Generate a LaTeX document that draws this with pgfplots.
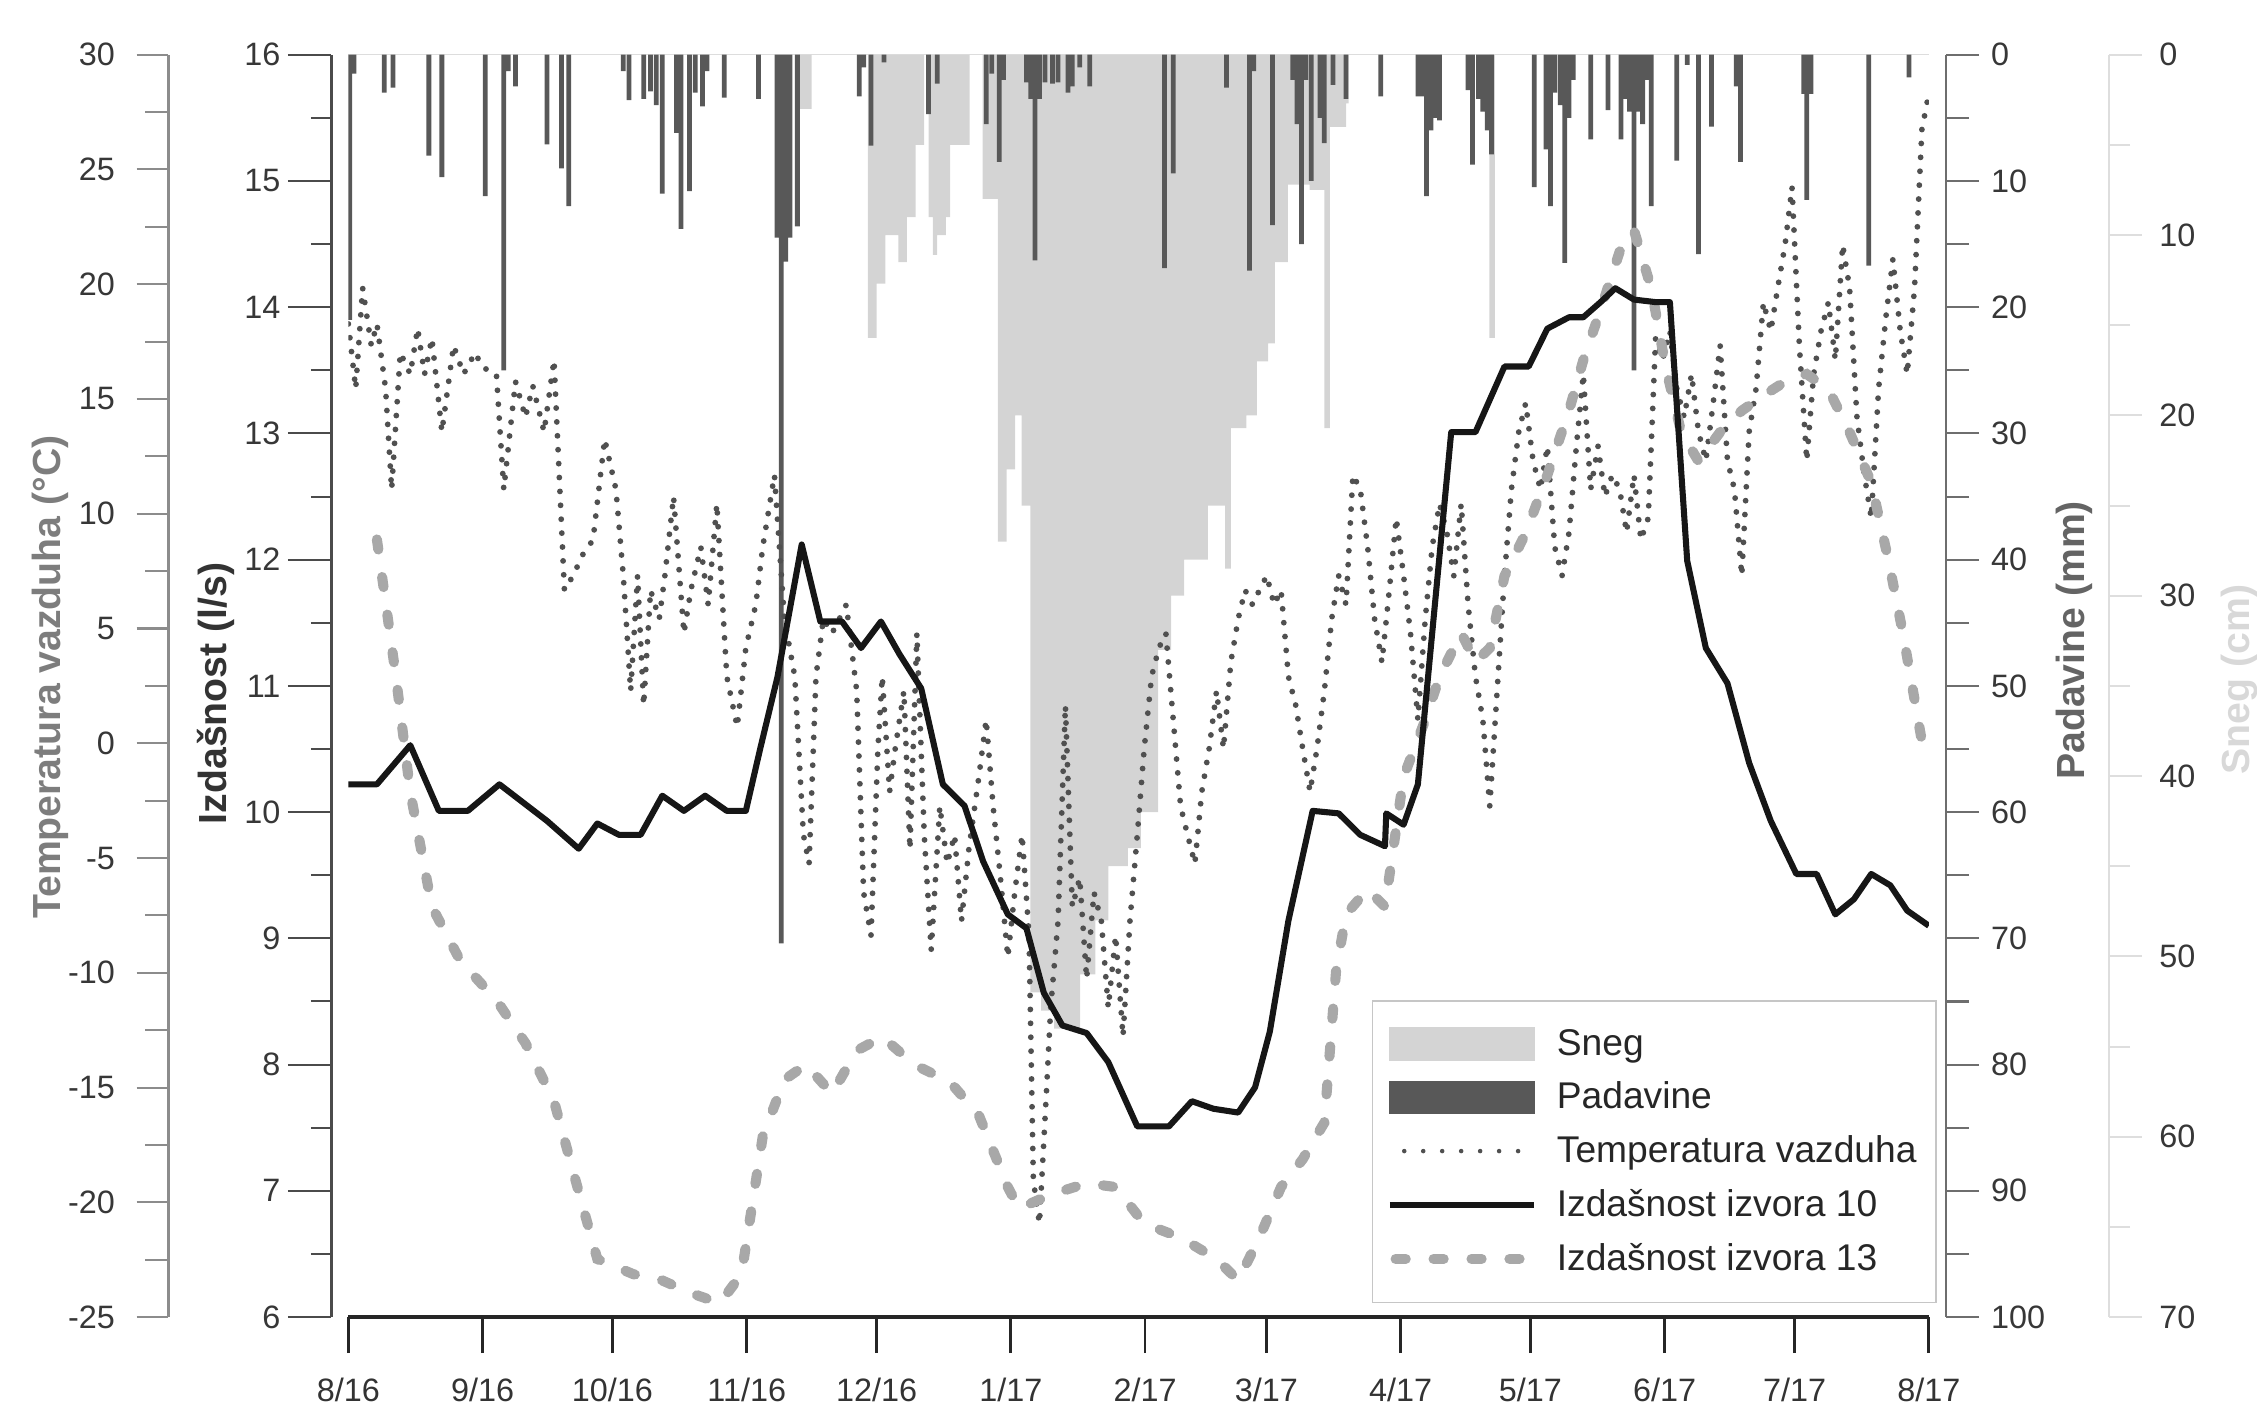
\documentclass[border=0pt]{standalone}
\usepackage{fontspec}
\setmainfont{Liberation Sans}
\usepackage{pgfplots}
\pgfplotsset{compat=1.18}

\definecolor{snowgray}{RGB}{212,212,212}
\definecolor{precgray}{RGB}{88,88,88}
\definecolor{tempgray}{RGB}{80,80,80}
\definecolor{qten}{RGB}{22,22,22}
\definecolor{qthirteen}{RGB}{168,168,168}
\definecolor{taxis}{RGB}{140,140,140}
\definecolor{tlabel}{RGB}{125,125,125}
\definecolor{qaxis}{RGB}{75,75,75}
\definecolor{paxis}{RGB}{110,110,110}
\definecolor{plabel}{RGB}{100,100,100}
\definecolor{saxis}{RGB}{222,222,222}
\definecolor{slabel}{RGB}{216,216,216}
\definecolor{ticktext}{RGB}{55,55,55}

\newcommand\tickfont{\fontsize{12.8}{14}\selectfont}
\newcommand\xfont{\fontsize{12.8}{14}\selectfont}
\newcommand\lblfont{\fontsize{15.5}{18}\selectfont\bfseries}

\tikzset{
  tempstyle/.style={tempgray, line width=2.3pt, line cap=round, dash pattern=on 0pt off 5.5pt},
  q13style/.style={qthirteen, line width=4pt, line cap=round, dash pattern=on 4pt off 11pt},
}
\pgfplotsset{
  base/.style={scale only axis, width=21.96cm, height=17.54cm, xmin=0, xmax=365},
  yonly/.style={scale only axis, width=1cm, height=17.54cm, xmin=0, xmax=1,
    axis x line=none, tick align=outside,
    major tick length=0.44cm, minor tick length=0.32cm, minor y tick num=1,
    /pgf/number format/assume math mode=true,
    yticklabel style={font=\tickfont, text=ticktext},
    ylabel style={font=\lblfont, anchor=center}},
}

\begin{document}
\begin{tikzpicture}
\useasboundingbox (-4.84cm,-1.24cm) rectangle (26.52cm,18.30cm);

% snow depth (cm), hanging from the top
\begin{axis}[base, ymin=0, ymax=70, y dir=reverse,
  axis x line*=top, axis y line=none, xtick=\empty,
  x axis line style={gray!25, line width=0.6pt}]
\addplot[const plot, fill=snowgray, draw=none] coordinates {
(0,0) (104,3) (107,0) (120,15.7) (122,12.7) (124,10) (127,11.5) (129,9) (131,5) (133,0)
(134,9) (135,11.1) (136,10) (138,9) (139,5) (143.5,0) (146.5,8) (150,27) (152,23) (154,20)
(155.5,25) (157.5,52) (160,53) (163,54) (166,54) (169,51) (172.5,48) (175.5,45) (180,44)
(183,42) (187,33) (190,30) (193,28) (198.5,25) (202.5,28.5) (203.8,20.7) (207.4,20)
(209.8,17) (212.4,16) (214,11.5) (217,7.2) (222,7.5) (225.4,20.7) (226.7,4) (230.4,2.7)
(231,0) (263.5,15.7) (264.8,0) (365,0)
} \closedcycle;
\end{axis}

% precipitation (mm), hanging from the top
\begin{axis}[base, hide axis, ymin=0, ymax=100, y dir=reverse]
\addplot[ybar, bar width=1.1, fill=precgray, draw=none] coordinates {
(0.3,21.0) (1.3,1.5) (8.3,3.0) (10.3,2.6) (18.6,8.0) (21.6,9.7) (31.6,11.2) (35.9,25.0)
(36.9,1.3) (38.6,2.5) (45.9,7.1) (49.2,9.0) (50.9,12.0) (63.5,1.3) (64.8,3.6) (68.2,3.5)
(69.8,2.9) (71.1,4.0) (72.5,11.0) (75.8,6.2) (76.8,13.8) (78.8,10.8) (80.1,3.0) (81.8,4.1)
(82.8,1.3) (86.8,3.4) (94.7,3.5) (99,14.5) (100,70.4) (101,16.4) (102,14.5) (103.7,13.6)
(118.0,3.3) (119.0,1.0) (120.7,7.2) (123.7,0.6) (134.0,4.7) (136.0,2.3) (147.3,5.5)
(148.6,1.5) (150.3,8.5) (151.3,2.0) (156.6,2.2) (157.6,3.5) (158.6,16.3) (159.6,3.5)
(160.9,2.2) (162.6,2.3) (163.9,2.2) (166.2,3.0) (167.2,2.5) (168.9,1.0) (171.2,2.5)
(188.5,16.9) (190.5,9.4) (202.8,2.6) (208.1,17.1) (209.1,1.3) (213.4,13.5) (218.1,2.0)
(219.1,5.5) (220.1,15.0) (221.1,2.0) (222.4,10.0) (224.4,5.0) (225.4,7.0) (227.4,2.4)
(230.4,3.5) (238.4,3.3) (247.0,3.3) (248.0,3.3) (249.0,11.2) (250.0,6.0) (251.0,5.0)
(252.0,5.2) (258.6,2.8) (259.6,8.7) (261.0,3.5) (262.0,4.5) (263.0,6.0) (264.0,7.9)
(273.9,10.5) (276.6,7.5) (277.6,12.0) (278.6,3.0) (279.9,4.0) (280.9,16.5) (281.9,5.0)
(282.9,2.0) (286.9,6.7) (290.9,4.4) (293.9,6.7) (294.9,3.5) (295.9,4.5) (296.9,25.0)
(297.9,4.5) (298.9,5.5) (299.9,2.0) (300.9,12.0) (306.8,8.4) (309.2,0.8) (311.8,15.8)
(314.8,5.7) (320.5,2.5) (321.5,8.5) (336.1,3.1) (336.8,11.5) (337.8,3.1) (351.1,16.7)
(360.4,1.8)
};
\end{axis}

% air temperature (degC)
\begin{axis}[base, hide axis, ymin=-25, ymax=30]
\addplot[tempstyle] coordinates {
(0.0,18.27) (1.7,15.45) (3.3,19.84) (5.3,17.33) (6.6,18.27) (8.6,15.45) (10.0,11.06)
(12.0,17.02) (14.3,16.08) (16.0,18.08) (17.6,16.08) (19.3,17.65) (21.6,13.57) (24.3,17.33)
(26.6,16.08) (29.3,17.02) (30.9,16.39) (34.2,16.08) (35.9,11.06) (38.6,15.76) (40.9,14.20)
(42.6,15.57) (45.2,13.57) (47.5,16.70) (49.9,6.67) (51.9,7.30) (54.2,8.24) (56.5,8.86)
(59.2,13.25) (61.8,11.06) (63.5,7.30) (65.2,2.28) (66.8,7.30) (68.2,1.65) (69.8,6.67)
(71.8,5.42) (73.1,7.30) (75.1,10.75) (77.5,4.79) (79.1,6.67) (81.4,8.55) (83.1,6.04)
(85.1,10.43) (87.4,2.91) (89.8,0.71) (91.8,4.16) (94.1,6.04) (95.7,8.55) (98.4,11.69)
(100.7,5.42) (103.1,2.91) (105.1,-3.99) (106.4,-5.25) (108.0,2.91) (109.7,5.42)
(111.7,4.79) (113.4,5.42) (115.0,6.04) (117.4,2.28) (119.0,-6.50) (120.7,-8.38)
(122.3,-0.23) (123.3,2.91) (125.0,-2.11) (126.3,-0.23) (128.3,2.28) (129.7,-4.62)
(131.3,4.79) (133.0,-3.99) (134.6,-9.01) (136.6,-2.74) (138.3,-5.25) (140.0,-3.99)
(141.6,-7.75) (143.3,-4.62) (145.6,-1.48) (147.3,1.03) (148.9,-2.74) (150.6,-5.87)
(152.3,-9.32) (153.9,-6.50) (155.6,-3.99) (157.2,-8.38) (158.2,-19.04) (159.6,-20.93)
(161.2,-15.28) (162.2,-11.52) (163.9,-7.75) (165.6,1.65) (167.2,-7.13) (168.9,-5.87)
(170.5,-10.26) (172.2,-6.50) (173.9,-7.75) (175.5,-11.52) (177.2,-8.38) (178.9,-12.77)
(180.5,-7.75) (182.2,-3.99) (183.8,-0.23) (185.5,2.91) (187.2,4.16) (188.8,4.79)
(190.5,1.03) (192.2,-2.74) (193.8,-3.99) (195.5,-5.25) (197.1,-2.11) (198.8,-0.23)
(200.5,2.28) (202.1,-0.23) (203.8,3.53) (205.5,5.42) (207.1,6.67) (208.8,6.04)
(210.4,6.67) (212.1,7.30) (213.8,6.04) (215.4,6.67) (217.1,2.91) (218.8,1.65)
(220.4,-0.23) (222.1,-2.11) (223.7,-0.23) (225.4,2.28) (227.1,5.42) (228.7,7.30)
(230.4,6.04) (232.0,11.69) (233.7,11.06) (235.4,8.55) (237.0,5.42) (238.7,3.53)
(240.4,6.67) (242.0,9.81) (243.7,7.30) (245.3,4.79) (247.0,1.03) (248.7,5.42)
(250.3,8.55) (252.0,10.43) (253.7,9.18) (255.3,7.30) (257.0,10.43) (258.6,6.04)
(260.3,2.91) (262.0,1.03) (263.6,-2.74) (265.3,2.28) (267.0,7.30) (268.6,11.06)
(270.3,13.57) (271.9,14.82) (273.6,12.31) (275.3,11.06) (276.9,12.94) (278.6,8.55)
(280.3,7.30) (281.9,9.18) (283.6,12.94) (285.2,16.08) (286.9,11.06) (288.6,12.94)
(290.2,10.75) (291.9,11.69) (293.6,11.06) (295.2,9.18) (296.9,11.69) (298.5,8.86)
(300.2,9.81) (301.9,17.65) (303.5,16.70) (305.2,17.96) (306.8,15.45) (308.5,14.20)
(310.2,16.08) (311.8,13.57) (313.5,12.31) (315.2,14.82) (316.8,17.33) (318.5,12.31)
(320.1,11.06) (321.8,7.30) (323.5,13.57) (325.1,15.45) (326.8,19.21) (328.5,17.96)
(330.1,19.84) (331.8,21.72) (333.4,24.23) (335.1,17.33) (336.8,12.31) (338.4,16.08)
(340.1,17.96) (341.8,19.21) (343.4,16.70) (345.1,21.72) (346.7,19.84) (348.4,14.20)
(350.1,11.69) (351.7,9.81) (353.4,15.45) (355.1,18.59) (356.7,21.09) (358.4,17.96)
(360.0,16.08) (361.7,19.84) (363.4,26.74) (365.0,28.31)
};
\end{axis}

% spring discharge (l/s), main x axis and legend
\begin{axis}[base, ymin=6, ymax=16,
  axis x line*=bottom, axis y line=none,
  xtick={0,31,61,92,122,153,184,212,243,273,304,334,365},
  xticklabels={8/16,9/16,10/16,11/16,12/16,1/17,2/17,3/17,4/17,5/17,6/17,7/17,8/17},
  tick align=outside, major tick length=0.5cm,
  x axis line style={line width=1.6pt, black!85},
  xtick style={line width=1.1pt, black!85},
  xticklabel style={font=\xfont, text=black!80, yshift=-0.22cm},
  legend image code/.code={\draw[#1] (0cm,0cm) -- (2cm,0cm);},
  legend style={at={(1.005,0.011)}, anchor=south east, draw=gray!45, line width=0.6pt,
    fill=white, font=\fontsize{14.7}{17}\selectfont, text=black!85,
    inner xsep=0.2cm, inner ysep=0.32cm, row sep=0.18cm,
    /tikz/every odd column/.append style={column sep=0.18cm}},
  legend cell align=left]
\addlegendimage{legend image code/.code={\fill[snowgray] (0cm,-0.22cm) rectangle (2cm,0.22cm);}}
\addlegendentry{Sneg}
\addlegendimage{legend image code/.code={\fill[precgray] (0cm,-0.22cm) rectangle (2cm,0.22cm);}}
\addlegendentry{Padavine}
\addlegendimage{legend image code/.code={\draw[tempgray, line width=1.8pt, line cap=round, dash pattern=on 0pt off 7.5pt] (0.2cm,0cm) -- (2cm,0cm);}}
\addlegendentry{Temperatura vazduha}
\addlegendimage{qten, line width=2.4pt}
\addlegendentry{Izdašnost izvora 10}
\addlegendimage{legend image code/.code={\draw[q13style] (0.08cm,0cm) -- (2cm,0cm);}}
\addlegendentry{Izdašnost izvora 13}
\addplot[forget plot, q13style] coordinates {
(6.6,12.16) (11.0,11.07) (14.3,10.16) (19.3,9.25) (25.9,8.82) (34.2,8.51) (40.9,8.17)
(47.5,7.71) (52.5,7.08) (57.5,6.46) (65.8,6.34) (72.5,6.29) (79.1,6.19) (85.8,6.11)
(90.8,6.34) (95.7,7.43) (100.7,7.88) (105.7,8.0) (111.7,7.77) (117.4,8.11) (123.3,8.22)
(130.7,8.0) (139.0,7.86) (145.6,7.6) (152.3,7.03) (154.9,6.86) (162.2,6.97) (170.5,7.06)
(177.2,7.03) (183.8,6.74) (192.2,6.63) (200.5,6.46) (205.5,6.29) (210.4,6.63) (215.4,7.03)
(220.4,7.25) (225.4,7.54) (228.1,8.74) (230.4,9.19) (235.4,9.39) (239.4,9.25) (243.7,10.28)
(248.7,10.73) (252.0,11.07) (257.0,11.42) (260.3,11.19) (263.6,11.30) (267.0,11.87)
(271.9,12.21) (276.9,12.67) (281.9,13.18) (285.2,13.58) (289.2,13.98) (293.6,14.44)
(296.9,14.61) (300.9,14.15) (304.2,13.53) (307.8,13.01) (311.8,12.78) (316.8,13.01)
(321.8,13.18) (326.8,13.30) (331.8,13.41) (336.8,13.47) (341.8,13.35) (346.7,13.01)
(351.7,12.61) (355.7,11.99) (359.0,11.42) (363.4,10.56)
};
\addplot[forget plot, qten, line width=2.4pt, line join=round] coordinates {
(0,10.22) (6.6,10.22) (14.3,10.53) (20.9,10.01) (27.6,10.01) (34.9,10.22) (45.9,9.93)
(53.2,9.71) (57.5,9.91) (62.5,9.82) (67.5,9.82) (72.5,10.13) (77.5,10.01) (82.4,10.13)
(87.4,10.01) (91.8,10.01) (95.1,10.50) (99.1,11.07) (104.7,12.12) (109.0,11.51)
(114.0,11.51) (118.4,11.30) (123.0,11.51) (127.3,11.25) (132.3,10.98) (137.3,10.22)
(142.3,10.05) (146.6,9.61) (152.3,9.19) (156.6,9.08) (160.6,8.57) (164.9,8.31) (170.5,8.25)
(175.5,8.02) (182.2,7.51) (189.5,7.51) (194.8,7.71) (199.8,7.65) (205.5,7.62) (209.4,7.82)
(212.8,8.26) (217.1,9.14) (222.7,10.01) (228.7,9.99) (233.7,9.82) (239.4,9.73)
(239.7,9.99) (243.7,9.90) (247.0,10.22) (251.0,11.67) (254.7,13.01) (260.3,13.01)
(267.0,13.53) (272.6,13.53) (276.9,13.83) (281.9,13.92) (285.2,13.92) (289.2,14.04)
(292.6,14.15) (296.9,14.06) (301.9,14.04) (305.2,14.04) (309.2,11.99) (313.5,11.30)
(318.5,11.02) (323.5,10.39) (328.5,9.93) (334.4,9.51) (339.1,9.51) (343.4,9.19)
(347.7,9.31) (351.7,9.51) (356.1,9.42) (360.0,9.22) (365.0,9.10)
};
\end{axis}

% temperature scale
\begin{axis}[yonly, xshift=-2.5cm, ymin=-25, ymax=30, axis y line*=left,
  ytick={-25,-20,...,30},
  yticklabel style={xshift=-0.18cm},
  y axis line style={taxis, line width=1pt}, ytick style={taxis, line width=0.8pt},
  ylabel={Temperatura vazduha (°C)},
  ylabel style={at={(axis description cs:-1.64,0.507)}, text=tlabel}]
\end{axis}

% discharge scale
\begin{axis}[yonly, xshift=-0.24cm, ymin=6, ymax=16, axis y line*=left,
  ytick={6,7,...,16}, major tick length=0.6cm, minor tick length=0.28cm,
  yticklabel style={xshift=0.02cm},
  y axis line style={qaxis, line width=1.2pt}, ytick style={qaxis, line width=0.8pt},
  ylabel={Izdašnost (l/s)},
  ylabel style={at={(axis description cs:-1.6,0.494)}, text=black!80}]
\end{axis}

% precipitation scale
\begin{axis}[yonly, xshift=21.2cm, ymin=0, ymax=100, y dir=reverse, axis y line*=right,
  ytick={0,10,...,100}, major tick length=0.46cm,
  yticklabel style={xshift=0.04cm},
  y axis line style={paxis, line width=1pt}, ytick style={paxis, line width=0.8pt},
  ylabel={Padavine (mm)},
  ylabel style={at={(axis description cs:2.78,0.536)}, text=plabel}]
\end{axis}

% snow scale
\begin{axis}[yonly, xshift=23.46cm, ymin=0, ymax=70, y dir=reverse, axis y line*=right,
  ytick={0,10,...,70}, major tick length=0.46cm, minor tick length=0.3cm,
  yticklabel style={xshift=0.12cm},
  y axis line style={saxis, line width=1pt}, ytick style={saxis, line width=0.8pt},
  ylabel={Sneg (cm)},
  ylabel style={at={(axis description cs:2.82,0.505)}, text=slabel}]
\end{axis}
\end{tikzpicture}
\end{document}
